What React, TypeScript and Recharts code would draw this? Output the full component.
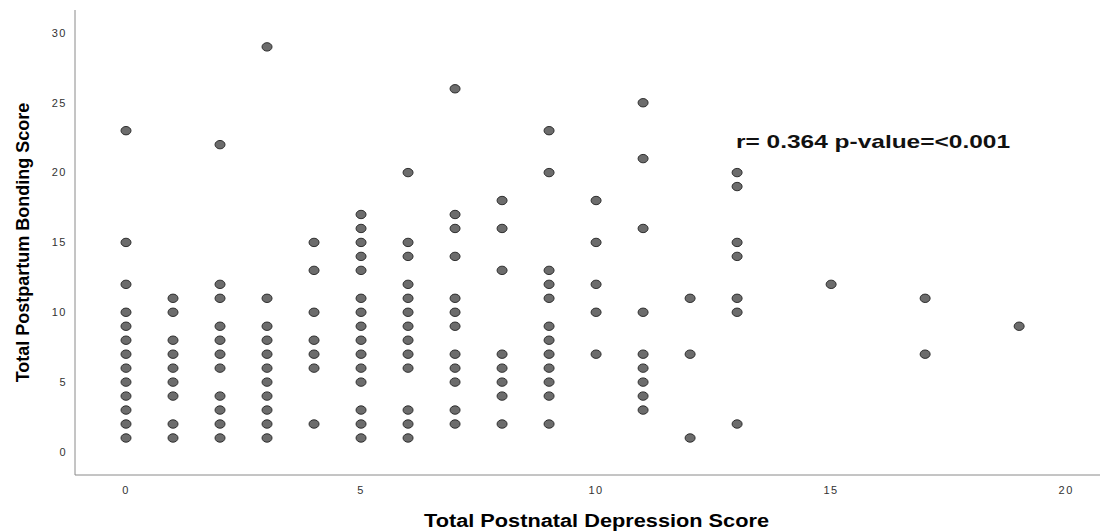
import { ScatterChart, Scatter, XAxis, YAxis, Label } from 'recharts'

const X_TICKS = [0, 5, 10, 15, 20]
const Y_TICKS = [0, 5, 10, 15, 20, 25, 30]

// bonding scores seen at each postnatal depression score
const dep0 = [1, 2, 3, 4, 5, 6, 7, 8, 9, 10, 12, 15, 23]
const dep1 = [1, 2, 4, 5, 6, 7, 8, 10, 11]
const dep2 = [1, 2, 3, 4, 6, 7, 8, 9, 11, 12, 22]
const dep3 = [1, 2, 3, 4, 5, 6, 7, 8, 9, 11, 29]
const dep4 = [2, 6, 7, 8, 10, 13, 15]
const dep5 = [1, 2, 3, 5, 6, 7, 8, 9, 10, 11, 13, 14, 15, 16, 17]
const dep6 = [1, 2, 3, 6, 7, 8, 9, 10, 11, 12, 14, 15, 20]
const dep7 = [2, 3, 5, 6, 7, 9, 10, 11, 14, 16, 17, 26]
const dep8 = [2, 4, 5, 6, 7, 13, 16, 18]
const dep9 = [2, 4, 5, 6, 7, 8, 9, 11, 12, 13, 20, 23]
const dep10 = [7, 10, 12, 15, 18]
const dep11 = [3, 4, 5, 6, 7, 10, 16, 21, 25]
const dep12 = [1, 7, 11]
const dep13 = [2, 10, 11, 14, 15, 19, 20]
const dep15 = [12]
const dep17 = [7, 11]
const dep19 = [9]

const columns: [number, number[]][] = [
  [0, dep0], [1, dep1], [2, dep2], [3, dep3], [4, dep4], [5, dep5], [6, dep6],
  [7, dep7], [8, dep8], [9, dep9], [10, dep10], [11, dep11], [12, dep12],
  [13, dep13], [15, dep15], [17, dep17], [19, dep19],
]

const points = columns.flatMap(([x, ys]) => ys.map(y => ({ x, y })))

const tickStyle = { fontSize: 11, fill: '#333', fontFamily: 'Liberation Sans, Arial, sans-serif', letterSpacing: 1.5 }
const titleFont = 'Liberation Sans, Arial, sans-serif'

const Dot = (props: any) => (
  <ellipse cx={props.cx} cy={props.cy} rx={5} ry={4.2} fill="#6c6c6c" stroke="#2e2e2e" strokeWidth={1} />
)

const XTitle = ({ viewBox }: any) => (
  <text
    x={viewBox.x + viewBox.width / 2 + 9}
    y={viewBox.y + viewBox.height - 4}
    textAnchor="middle"
    fontFamily={titleFont}
    fontWeight="bold"
    fontSize={18}
    fill="#000"
    textLength={345}
    lengthAdjust="spacingAndGlyphs"
  >
    Total Postnatal Depression Score
  </text>
)

const YTitle = ({ viewBox }: any) => {
  const cx = viewBox.x + 29
  const cy = viewBox.y + viewBox.height / 2
  return (
    <text
      x={cx}
      y={cy}
      transform={`rotate(-90, ${cx}, ${cy})`}
      textAnchor="middle"
      fontFamily={titleFont}
      fontWeight="bold"
      fontSize={18}
      fill="#000"
    >
      Total Postpartum Bonding Score
    </text>
  )
}

export default function App() {
  return (
    <div style={{ position: 'absolute', left: 0, top: 0, background: '#fff' }}>
      <ScatterChart width={1101} height={531} margin={{ top: 10, right: 1, bottom: 0, left: 0 }}>
        <XAxis
          type="number"
          dataKey="x"
          domain={[-1.085, 20.72]}
          ticks={X_TICKS}
          allowDataOverflow
          height={56}
          tickLine={false}
          tickMargin={5}
          axisLine={{ stroke: '#8a8a8a' }}
          tick={tickStyle}
        >
          <Label content={XTitle} />
        </XAxis>
        <YAxis
          type="number"
          dataKey="y"
          domain={[-1.65, 31.64]}
          ticks={Y_TICKS}
          allowDataOverflow
          width={75}
          tickLine={false}
          axisLine={{ stroke: '#8a8a8a' }}
          tick={tickStyle}
        >
          <Label content={YTitle} />
        </YAxis>
        <Scatter data={points} shape={Dot} isAnimationActive={false} />
        <text
          x={736}
          y={148}
          fontFamily={titleFont}
          fontWeight="bold"
          fontSize={19}
          fill="#111"
          textLength={274}
          lengthAdjust="spacingAndGlyphs"
        >
          r= 0.364 p-value=&lt;0.001
        </text>
      </ScatterChart>
    </div>
  )
}
